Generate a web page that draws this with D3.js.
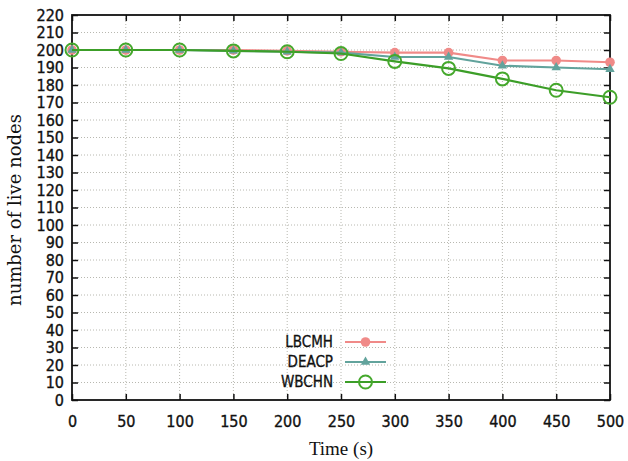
<!DOCTYPE html>
<html>
<head>
<meta charset="utf-8">
<script src="https://cdn.jsdelivr.net/npm/d3@7"></script>
<style>
  body { margin: 0; background: #fff; }
  .tick text { font-family: "DejaVu Sans Condensed", "DejaVu Sans", sans-serif; fill: #111; stroke: #111; stroke-width: 0.35; }
</style>
</head>
<body>
<script>
var w = 628; // Width of the page
var h = 461; // Height of the page
var margin = {top: 15, right: 18, bottom: 61, left: 72};

// Data
var times = [0, 50, 100, 150, 200, 250, 300, 350, 400, 450, 500];
var lbcmh = [200, 200, 200, 200, 199.5, 199, 198.5, 198.5, 194, 194, 193];
var deacp = [200, 200, 200, 199.5, 199, 198.5, 196, 196, 191, 190, 189];
var wbchn = [200, 200, 200, 199.5, 199, 198, 193.5, 189.5, 183.5, 177, 173];
var seriesNames = ["LBCMH", "DEACP", "WBCHN"];
var yTicks = d3.range(0, 221, 10);

var series = [
  {name: seriesNames[0], values: lbcmh, color: "#f08a88", marker: "circle"},
  {name: seriesNames[1], values: deacp, color: "#62a39c", marker: "triangle"},
  {name: seriesNames[2], values: wbchn, color: "#3c9e28", marker: "ring"}
];

var xScale = d3.scaleLinear()
    .domain([0, 500])
    .range([margin.left, w - margin.right]);

var yScale = d3.scaleLinear()
    .domain([0, 220])
    .range([h - margin.bottom, margin.top]);

var svg = d3.select("body")
    .append("svg")
    .attr("width", w)
    .attr("height", h);

// Dotted grid
svg.append("g")
    .selectAll("line.hgrid")
    .data(yTicks.slice(1, -1))
    .join("line")
    .attr("x1", margin.left).attr("x2", w - margin.right)
    .attr("y1", function(d) { return yScale(d); })
    .attr("y2", function(d) { return yScale(d); })
    .attr("stroke", "#b8b8b0")
    .attr("stroke-width", 1)
    .attr("stroke-dasharray", "1,2");

svg.append("g")
    .selectAll("line.vgrid")
    .data(times.slice(1, -1))
    .join("line")
    .attr("x1", function(d) { return xScale(d); })
    .attr("x2", function(d) { return xScale(d); })
    .attr("y1", margin.top).attr("y2", h - margin.bottom)
    .attr("stroke", "#b8b8b0")
    .attr("stroke-width", 1)
    .attr("stroke-dasharray", "1,2");

// Axes with inward ticks
var xAxis = d3.axisBottom(xScale).tickValues(times).tickSizeInner(-6).tickSizeOuter(0).tickPadding(16);
var yAxis = d3.axisLeft(yScale).tickValues(yTicks).tickSizeInner(-6).tickSizeOuter(0).tickPadding(8);

var gx = svg.append("g")
    .attr("transform", "translate(0," + (h - margin.bottom) + ")")
    .call(xAxis);
gx.selectAll("text").attr("font-size", 16);

var gy = svg.append("g")
    .attr("transform", "translate(" + margin.left + ",0)")
    .call(yAxis);
gy.selectAll("text").attr("font-size", 16);

// Mirror ticks on top and right
svg.append("g")
    .attr("transform", "translate(0," + margin.top + ")")
    .call(d3.axisTop(xScale).tickValues(times).tickSizeInner(-6).tickSizeOuter(0).tickFormat(""));
svg.append("g")
    .attr("transform", "translate(" + (w - margin.right) + ",0)")
    .call(d3.axisRight(yScale).tickValues(yTicks).tickSizeInner(-6).tickSizeOuter(0).tickFormat(""));

svg.selectAll(".domain").remove();
svg.selectAll(".tick line").attr("stroke", "#111").attr("stroke-width", 1.5);

// Frame
svg.append("rect")
    .attr("x", margin.left)
    .attr("y", margin.top)
    .attr("width", w - margin.left - margin.right)
    .attr("height", h - margin.top - margin.bottom)
    .attr("fill", "none")
    .attr("stroke", "#111")
    .attr("stroke-width", 1.8);

// Lines and markers
var line = d3.line()
    .x(function(d, i) { return xScale(times[i]); })
    .y(function(d) { return yScale(d); });

function drawMarker(g, s, x, y) {
  if (s.marker === "circle") {
    g.append("circle").attr("cx", x).attr("cy", y).attr("r", 4.8)
      .attr("fill", s.color);
  } else if (s.marker === "triangle") {
    g.append("path")
      .attr("transform", "translate(" + x + "," + y + ")")
      .attr("d", d3.symbol().type(d3.symbolTriangle).size(38)())
      .attr("fill", s.color);
  } else {
    g.append("circle").attr("cx", x).attr("cy", y).attr("r", 6.5)
      .attr("fill", "none").attr("stroke", "#45a82c").attr("stroke-width", 2);
  }
}

series.forEach(function(s) {
  svg.append("path")
      .datum(s.values)
      .attr("d", line)
      .attr("fill", "none")
      .attr("stroke", s.color)
      .attr("stroke-width", 2.2);
  var g = svg.append("g");
  s.values.forEach(function(v, i) {
    drawMarker(g, s, xScale(times[i]), yScale(v));
  });
});

// Legend
var legend = svg.append("g");
series.forEach(function(s, i) {
  var y = 342 + i * 20;
  legend.append("text")
      .attr("x", 333)
      .attr("y", y)
      .attr("dy", "0.35em")
      .attr("text-anchor", "end")
      .attr("font-family", "DejaVu Sans Condensed, DejaVu Sans, sans-serif")
      .attr("font-size", 15)
      .attr("fill", "#111")
      .attr("stroke", "#111")
      .attr("stroke-width", 0.3)
      .text(s.name);
  legend.append("line")
      .attr("x1", 345).attr("x2", 386)
      .attr("y1", y).attr("y2", y)
      .attr("stroke", s.color)
      .attr("stroke-width", 2.2);
  drawMarker(legend, s, 365.5, y);
});

// Axis titles
svg.append("text")
    .attr("text-anchor", "middle")
    .attr("x", 341)
    .attr("y", 455)
    .attr("font-family", "Liberation Serif, serif")
    .attr("font-size", 19)
    .attr("fill", "#111")
    .text("Time (s)");

svg.append("text")
    .attr("text-anchor", "middle")
    .attr("transform", "rotate(-90)")
    .attr("x", -210)
    .attr("y", 21)
    .attr("font-family", "DejaVu Serif, serif")
    .attr("font-size", 18)
    .attr("fill", "#111")
    .text("number of live nodes");
</script>
</body>
</html>
